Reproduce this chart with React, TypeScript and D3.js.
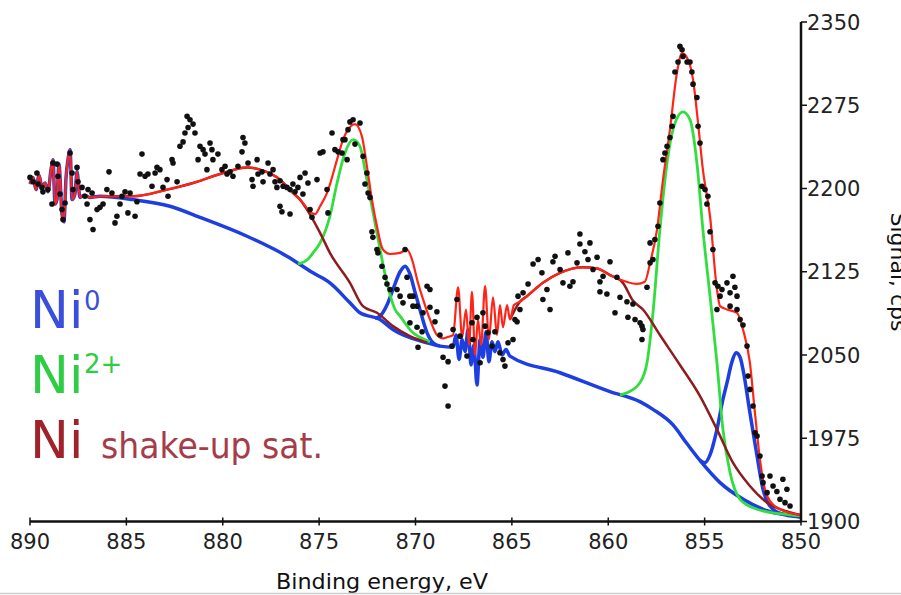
import React from 'react';
import * as d3 from 'd3';

type P = [number, number];

// axis ticks
const xTicks: number[] = [890, 885, 880, 875, 870, 865, 860, 855, 850];
const yTicks: number[] = [1900, 1975, 2050, 2125, 2200, 2275, 2350];

// noisy start of the spectrum (shared by background and envelope)
const noiseLeft: P[] = [
  [890.0, 2204], [889.84, 2210], [889.69, 2199], [889.53, 2212], [889.38, 2201], [889.22, 2205],
  [889.07, 2197], [888.91, 2217], [888.81, 2226], [888.7, 2186], [888.6, 2190], [888.5, 2222],
  [888.34, 2177], [888.24, 2170], [888.13, 2210], [888.03, 2226], [887.92, 2235], [887.82, 2190],
  [887.67, 2195], [887.56, 2215], [887.41, 2192], [887.2, 2194], [886.89, 2192], [886.37, 2193],
];

// Shirley-type background (blue, lower)
const background: P[] = [
  [884.66, 2190], [882.74, 2184], [881.18, 2174], [878.74, 2157], [876.67, 2139], [875.32, 2124],
  [874.44, 2115], [873.4, 2097], [872.88, 2088], [871.84, 2082], [871.17, 2073], [869.4, 2061],
  [868.73, 2058], [868.05, 2057], [867.9, 2068], [867.74, 2046], [867.58, 2064], [867.43, 2053],
  [867.27, 2073], [867.12, 2041], [866.97, 2059], [866.81, 2023], [866.65, 2064], [866.5, 2048],
  [866.34, 2071], [866.19, 2044], [866.03, 2062], [865.88, 2053], [865.72, 2062], [865.51, 2050],
  [865.31, 2055], [865.1, 2049], [862.5, 2034], [859.91, 2017], [858.36, 2008], [857.68, 2001],
  [856.64, 1987], [855.91, 1970], [855.24, 1955], [854.2, 1935], [853.0, 1920], [851.45, 1908],
  [850.21, 1905], [850.0, 1904],
];

// Ni0 components (background + peak)
const ni0Sat: P[] = [
  [872.1, 2083], [871.84, 2085], [871.48, 2095], [871.17, 2109], [870.8, 2125], [870.54, 2130],
  [870.29, 2123], [870.03, 2107], [869.77, 2091], [869.4, 2070], [869.09, 2061], [868.73, 2058],
];
const ni0Main: P[] = [
  [855.24, 1955], [854.98, 1953], [854.72, 1960], [854.36, 1983], [854.05, 2010], [853.84, 2025],
  [853.58, 2044], [853.37, 2052], [853.16, 2048], [853.01, 2037], [852.65, 1998], [852.28, 1959],
  [851.97, 1929], [851.45, 1911], [850.83, 1906], [850.0, 1904],
];

// Ni2+ components (background + peak)
const ni2Sat: P[] = [
  [876.1, 2132], [875.6, 2136], [875.32, 2142], [874.95, 2151], [874.44, 2175], [874.07, 2205],
  [873.66, 2232], [873.24, 2244], [872.88, 2238], [872.62, 2217], [872.36, 2193], [872.0, 2160],
  [871.48, 2115], [871.06, 2091], [870.8, 2085], [870.13, 2070], [869.77, 2066], [869.25, 2062],
];
const ni2Main: P[] = [
  [859.39, 2014], [859.03, 2016], [858.36, 2025], [857.99, 2043], [857.68, 2088], [857.32, 2163],
  [856.95, 2223], [856.64, 2253], [856.12, 2269], [855.76, 2262], [855.4, 2223], [855.09, 2163],
  [854.72, 2103], [854.36, 2043], [854.05, 1983], [853.68, 1944], [853.16, 1920], [852.28, 1911],
  [851.09, 1907], [850.05, 1905],
];

// shake-up satellites (background + satellite)
const satA: P[] = [
  [886.37, 2193], [884.66, 2193], [882.89, 2199], [881.54, 2205], [880.14, 2213], [878.74, 2219],
  [878.07, 2217], [877.03, 2208], [876.36, 2196], [875.99, 2190], [875.63, 2181], [874.95, 2160],
  [874.44, 2142], [873.4, 2115], [872.73, 2094], [872.0, 2088], [871.17, 2076], [870.29, 2067],
  [869.4, 2061],
];
const satB: P[] = [
  [865.1, 2082], [864.58, 2098], [864.22, 2103], [863.39, 2115], [862.5, 2124], [861.31, 2129],
  [860.58, 2128], [859.91, 2122], [859.24, 2115], [858.72, 2099], [858.2, 2091], [857.32, 2068],
  [856.28, 2041], [855.24, 2013], [854.36, 1983], [853.53, 1953], [852.65, 1932], [851.76, 1917],
  [850.73, 1909], [850.05, 1906],
];

// fitted envelope (red)
const envelope: P[] = [
  [884.66, 2193], [882.89, 2199], [881.54, 2205], [880.14, 2213], [878.74, 2219], [878.07, 2217],
  [877.03, 2208], [876.36, 2196], [875.84, 2187], [875.47, 2179], [875.21, 2177], [874.95, 2184],
  [874.59, 2196], [874.07, 2226], [873.76, 2244], [873.5, 2253], [873.14, 2258], [872.78, 2247],
  [872.52, 2220], [872.26, 2190], [872.0, 2166], [871.69, 2145], [871.32, 2141], [870.8, 2142],
  [870.44, 2145], [870.18, 2136], [869.87, 2115], [869.51, 2095], [869.25, 2082], [868.89, 2068],
  [868.57, 2065], [868.37, 2066], [868.05, 2068], [867.79, 2111], [867.58, 2066], [867.38, 2091],
  [867.22, 2059], [867.07, 2107], [866.91, 2050], [866.76, 2082], [866.6, 2059], [866.39, 2112],
  [866.19, 2064], [865.98, 2102], [865.77, 2068], [865.62, 2095], [865.46, 2075], [865.25, 2095],
  [865.1, 2082], [864.89, 2095], [864.58, 2098], [864.22, 2103], [863.39, 2115], [862.5, 2124],
  [861.31, 2129], [860.58, 2128], [859.91, 2122], [859.24, 2117], [858.51, 2114], [858.1, 2116],
  [857.83, 2133], [857.47, 2163], [857.16, 2208], [856.8, 2253], [856.43, 2305], [856.17, 2322],
  [855.86, 2316], [855.6, 2298], [855.34, 2259], [855.09, 2217], [854.72, 2175], [854.36, 2109],
  [854.2, 2094], [853.84, 2091], [853.32, 2088], [853.01, 2073], [852.65, 2043], [852.39, 1998],
  [852.13, 1956], [851.76, 1923], [851.09, 1911], [850.05, 1906],
];

// measured points
const measured: P[] = [
  [890.0, 2210], [889.84, 2206], [889.64, 2214], [889.58, 2204], [889.38, 2201], [889.33, 2197],
  [889.07, 2199], [888.86, 2186], [888.81, 2223], [888.6, 2222], [888.55, 2211], [888.44, 2195],
  [888.34, 2181], [888.29, 2172], [888.18, 2187], [887.92, 2232], [887.82, 2214], [887.77, 2199],
  [887.56, 2219], [887.51, 2206], [887.3, 2201], [887.15, 2193], [887.04, 2186], [886.99, 2199],
  [886.89, 2172], [886.78, 2196], [886.73, 2163], [886.52, 2181], [886.37, 2183], [886.21, 2186],
  [886.01, 2199], [885.9, 2215], [885.75, 2196], [885.59, 2169], [885.49, 2175], [885.33, 2186],
  [885.23, 2193], [885.07, 2197], [884.92, 2178], [884.81, 2196], [884.55, 2175], [884.45, 2188],
  [884.29, 2213], [884.19, 2231], [884.03, 2211], [883.88, 2213], [883.67, 2202], [883.51, 2214],
  [883.41, 2219], [883.26, 2217], [883.1, 2201], [882.89, 2208], [882.84, 2193], [882.63, 2226],
  [882.58, 2223], [882.37, 2206], [882.22, 2238], [882.06, 2242], [881.96, 2250], [881.85, 2265],
  [881.8, 2255], [881.7, 2262], [881.54, 2258], [881.44, 2250], [881.18, 2238], [881.02, 2235],
  [880.92, 2231], [880.66, 2241], [880.56, 2235], [880.51, 2226], [880.25, 2231], [881.28, 2226],
  [880.82, 2217], [880.04, 2217], [879.88, 2220], [879.78, 2213], [879.62, 2215], [879.47, 2211],
  [879.21, 2220], [879.0, 2233], [878.95, 2246], [878.85, 2241], [878.69, 2223], [878.48, 2208],
  [878.43, 2202], [878.22, 2226], [878.17, 2213], [877.96, 2215], [877.91, 2206], [877.65, 2223],
  [877.55, 2213], [877.39, 2217], [877.29, 2206], [877.19, 2201], [877.03, 2207], [876.87, 2202],
  [876.67, 2201], [876.51, 2199], [876.36, 2204], [876.25, 2197], [876.1, 2201], [875.99, 2210],
  [875.84, 2195], [875.73, 2214], [875.58, 2205], [877.03, 2184], [876.93, 2179], [876.51, 2177],
  [875.47, 2181], [875.37, 2174], [875.11, 2208], [874.95, 2232], [874.8, 2233], [874.59, 2199],
  [874.54, 2178], [874.33, 2250], [874.18, 2235], [874.02, 2233], [873.76, 2244], [873.4, 2260],
  [873.24, 2262], [872.88, 2259], [873.5, 2253], [873.66, 2244], [873.81, 2232], [873.55, 2226],
  [873.14, 2240], [872.72, 2229], [872.52, 2214], [872.62, 2204], [872.46, 2196], [872.36, 2192],
  [872.26, 2161], [872.21, 2156], [872.0, 2145], [871.95, 2142], [871.74, 2130], [871.58, 2120],
  [871.48, 2114], [871.32, 2109], [870.96, 2109], [870.8, 2103], [870.65, 2097], [870.54, 2145],
  [870.44, 2120], [870.29, 2103], [870.13, 2094], [869.4, 2112], [869.25, 2109], [870.13, 2103],
  [869.92, 2094], [869.25, 2093], [868.89, 2089], [870.29, 2079], [869.92, 2075], [869.66, 2071],
  [868.99, 2080], [869.61, 2088], [868.73, 2068], [869.87, 2057], [868.57, 2048], [868.31, 2044],
  [868.47, 2022], [868.31, 2004], [868.11, 2058], [868.05, 2073], [867.85, 2100], [867.69, 2067],
  [867.33, 2049], [867.07, 2079], [867.02, 2064], [866.81, 2084], [866.65, 2043], [866.5, 2088],
  [866.39, 2076], [866.24, 2070], [866.03, 2058], [865.88, 2071], [865.62, 2052], [865.46, 2046],
  [865.36, 2040], [865.2, 2061], [864.94, 2064], [864.68, 2103], [864.73, 2080], [861.47, 2159],
  [860.95, 2151], [861.47, 2150], [861.21, 2143], [862.09, 2142], [862.76, 2139], [863.64, 2136],
  [863.9, 2132], [863.44, 2124], [862.87, 2134], [862.5, 2127], [861.62, 2133], [861.05, 2136],
  [860.58, 2138], [859.91, 2134], [860.79, 2127], [860.27, 2121], [859.55, 2120], [860.43, 2116],
  [862.35, 2115], [861.99, 2112], [861.83, 2116], [863.18, 2109], [864.16, 2114], [864.42, 2106],
  [863.39, 2100], [863.02, 2091], [864.58, 2091], [864.84, 2082], [860.43, 2107], [860.07, 2105],
  [859.65, 2088], [859.39, 2102], [859.03, 2098], [858.72, 2096], [858.98, 2084], [858.61, 2082],
  [858.25, 2076], [857.99, 2111], [858.35, 2079], [858.2, 2073], [858.25, 2064], [857.83, 2133],
  [857.68, 2136], [857.83, 2151], [857.58, 2154], [857.42, 2166], [857.32, 2187], [857.16, 2226],
  [857.06, 2232], [856.95, 2238], [856.8, 2246], [856.69, 2256], [856.64, 2265], [856.54, 2305],
  [856.38, 2314], [856.28, 2328], [856.17, 2325], [856.12, 2319], [855.91, 2314], [855.76, 2314],
  [855.66, 2305], [855.6, 2294], [855.4, 2282], [855.34, 2256], [855.24, 2241], [855.14, 2202],
  [854.98, 2199], [854.83, 2193], [854.88, 2186], [854.72, 2161], [854.57, 2145], [854.46, 2115],
  [854.31, 2112], [854.2, 2103], [854.36, 2091], [854.1, 2109], [853.84, 2115], [853.68, 2106],
  [853.53, 2121], [853.43, 2111], [853.32, 2103], [853.68, 2094], [853.32, 2091], [853.16, 2082],
  [853.01, 2077], [852.8, 2058], [852.75, 2031], [852.65, 2019], [852.49, 2004], [852.39, 1980],
  [852.28, 1977], [852.13, 1959], [852.02, 1941], [851.97, 1935], [851.76, 1926], [851.61, 1941],
  [851.45, 1932], [851.25, 1927], [851.09, 1920], [850.94, 1938], [850.73, 1929], [850.83, 1917],
  [850.57, 1914],
];

const BLUE = '#1d3fe2';
const GREEN = '#33dd3f';
const BROWN = '#8e1c1e';
const RED = '#ff2418';

export default function App() {
  const W = 901;
  const H = 595;
  const x = d3.scaleLinear().domain([890, 850]).range([30, 801]);
  const y = d3.scaleLinear().domain([1900, 2350]).range([521.5, 22]);
  const line = d3
    .line<P>()
    .x((d) => x(d[0]))
    .y((d) => y(d[1]))
    .curve(d3.curveMonotoneX);
  const font = 'DejaVu Sans, Verdana, sans-serif';

  return (
    <div style={{ position: 'absolute', left: 0, top: 0 }}>
      <svg width={W} height={H} style={{ display: 'block', background: '#fff' }}>
        {/* curves */}
        <path d={line(noiseLeft.concat(background)) || ''} fill="none" stroke={BLUE} strokeWidth={3.5} />
        <path d={line(ni0Sat) || ''} fill="none" stroke={BLUE} strokeWidth={3.5} />
        <path d={line(ni0Main) || ''} fill="none" stroke={BLUE} strokeWidth={3.5} />
        <path d={line(ni2Sat) || ''} fill="none" stroke={GREEN} strokeWidth={2.8} />
        <path d={line(ni2Main) || ''} fill="none" stroke={GREEN} strokeWidth={2.8} />
        <path d={line(satA) || ''} fill="none" stroke={BROWN} strokeWidth={2.5} />
        <path d={line(satB) || ''} fill="none" stroke={BROWN} strokeWidth={2.5} />
        <path d={line(noiseLeft.concat(envelope)) || ''} fill="none" stroke={RED} strokeWidth={2.2} />
        {/* points */}
        {measured.map((d, i) => (
          <circle key={i} cx={x(d[0])} cy={y(d[1])} r={2.8} fill="#111" />
        ))}

        {/* x axis */}
        <line x1={x(890)} x2={x(850)} y1={y(1900)} y2={y(1900)} stroke="#111" strokeWidth={2.5} />
        {xTicks.map((t) => (
          <g key={t}>
            <line x1={x(t)} x2={x(t)} y1={y(1900) - 4} y2={y(1900) + 4} stroke="#111" strokeWidth={1.5} />
            <text x={x(t)} y={549} textAnchor="middle" fontFamily={font} fontSize={21} fill="#222">
              {t}
            </text>
          </g>
        ))}
        <text x={382} y={589} textAnchor="middle" fontFamily={font} fontSize={21} fill="#111" textLength={212} lengthAdjust="spacingAndGlyphs">
          Binding energy, eV
        </text>

        {/* y axis (right) */}
        <line x1={x(850)} x2={x(850)} y1={y(2350)} y2={y(1900)} stroke="#111" strokeWidth={2.5} />
        {yTicks.map((t) => (
          <g key={t}>
            <line x1={x(850)} x2={x(850) + 6} y1={y(t)} y2={y(t)} stroke="#111" strokeWidth={1.5} />
            <text x={x(850) + 6} y={y(t)} dy="0.36em" fontFamily={font} fontSize={21} fill="#222">
              {t}
            </text>
          </g>
        ))}
        <text transform="translate(891,272) rotate(90)" textAnchor="middle" fontFamily={font} fontSize={22} fill="#111">
          Signal, cps
        </text>

        {/* legend */}
        <text x={30} y={328} fontFamily={font} fontSize={52} fill="#3a4fdb">Ni</text>
        <text x={84} y={310} fontFamily={font} fontSize={26} fill="#3a4fdb">0</text>
        <text x={30} y={393} fontFamily={font} fontSize={52} fill="#2fcc45">Ni</text>
        <text x={84} y={373} fontFamily={font} fontSize={26} fill="#2fcc45">2+</text>
        <text x={30} y={458} fontFamily={font} fontSize={52} fill="#a0222b">Ni</text>
        <text x={101} y={458} fontFamily={font} fontSize={35} fill="#a63c48" textLength={222} lengthAdjust="spacingAndGlyphs">
          shake-up sat.
        </text>

        <line x1={0} x2={W} y1={593.5} y2={593.5} stroke="#cfcfcf" strokeWidth={1.5} />
      </svg>
    </div>
  );
}
